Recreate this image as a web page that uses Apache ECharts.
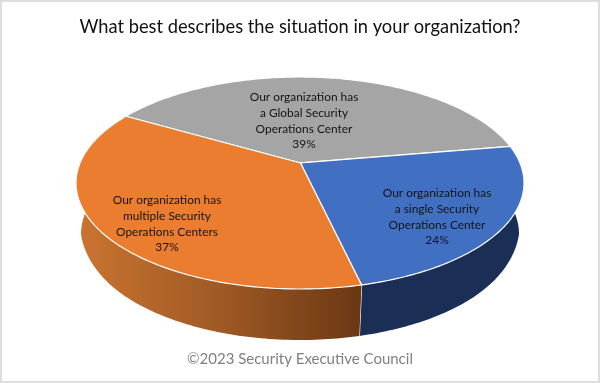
<!DOCTYPE html>
<html>
<head>
<meta charset="utf-8">
<title>Security Operations Center survey</title>
<style>
html, body { margin: 0; padding: 0; background: #fff; }
#main { width: 600px; height: 383px; }
</style>
<script src="https://cdn.jsdelivr.net/npm/echarts@6/dist/echarts.min.js"></script>
</head>
<body>
<div id="main"></div>
<script>
// Survey values, clockwise from the grey slice
var sliceNames = [
    'Our organization has\na Global Security\nOperations Center',
    'Our organization has\na single Security\nOperations Center',
    'Our organization has\nmultiple Security\nOperations Centers'
];
var sliceValues = [39, 24, 37];
var topColors = ['#A5A5A5', '#4170C2', '#EB7D31'];

// Label centres on the page, same order as the slices
var labelCenters = [[304, 121], [437, 217], [167, 224]];

// The 3D look: top face and floor of the disc, with a perspective factor
// flare widens the floor a little near the sides so the wall stays visible there
var topFace = {cx: 300, cy: 183, rx: 224, ry: 106, flare: 0};
var floorFace = {cx: 300, cy: 234, rx: 216, ry: 106, flare: 0.014};
var perspective = 0.189;
var startAngle = -60;

var total = sliceValues.reduce(function (a, b) { return a + b; }, 0);

function sliceRange(index) {
    var before = 0;
    for (var i = 0; i < index; i++) {
        before += sliceValues[i];
    }
    return [startAngle + before / total * 360, startAngle + (before + sliceValues[index]) / total * 360];
}

// circle angle (clockwise from the back) to a page point
function project(face, degrees) {
    var rad = degrees * Math.PI / 180;
    var u = Math.sin(rad);
    var v = -Math.cos(rad);
    var w = 1 - perspective * v;
    var dy = face.ry * (v - perspective) / w;
    var t = Math.max(0, 1 - Math.max(dy, 0) / 43);
    var dx = face.rx * Math.sqrt(1 - perspective * perspective) * u / w;
    return [face.cx + dx * (1 + face.flare * t * t), face.cy + dy];
}

function arcPoints(face, from, to) {
    var points = [];
    var steps = Math.ceil(Math.abs(to - from));
    for (var i = 0; i <= steps; i++) {
        points.push(project(face, from + (to - from) * i / steps));
    }
    return points;
}

function wallFill(index) {
    if (index === 2) {
        return new echarts.graphic.LinearGradient(76, 0, 360, 0, [
            {offset: 0, color: '#CB7430'},
            {offset: 0.5, color: '#A05A25'},
            {offset: 1, color: '#6B3814'}
        ], true);
    }
    return index === 1 ? '#1B2F56' : '#636363';
}

function renderWall(params, api) {
    var index = params.dataIndex;
    var range = sliceRange(index);
    var upper = arcPoints(topFace, range[0], range[1]);
    var lower = arcPoints(floorFace, range[0], range[1]).reverse();
    var seam = [project(topFace, range[1]), project(floorFace, range[1])];
    return {
        type: 'group',
        children: [{
            type: 'polygon',
            shape: {points: upper.concat(lower)},
            style: {fill: wallFill(index)}
        }, {
            type: 'polyline',
            shape: {points: seam},
            style: {stroke: index === 1 ? '#fff' : 'transparent', lineWidth: 1.2, fill: 'none'}
        }]
    };
}

function renderTop(params, api) {
    var index = params.dataIndex;
    var range = sliceRange(index);
    var vertex = [topFace.cx + 0.5, topFace.cy - topFace.ry * perspective];
    return {
        type: 'group',
        children: [{
            type: 'polygon',
            shape: {points: [vertex].concat(arcPoints(topFace, range[0], range[1]))},
            style: {fill: topColors[index], stroke: '#fff', lineWidth: 1.2, lineJoin: 'round'}
        }, {
            type: 'text',
            z2: 10,
            style: {
                x: labelCenters[index][0],
                y: labelCenters[index][1],
                text: sliceNames[index] + '\n' + api.value(0) + '%',
                fill: '#141414',
                font: '11.9px Lato',
                lineHeight: 15.7,
                align: 'center',
                verticalAlign: 'middle'
            }
        }]
    };
}

var myChart = echarts.init(document.getElementById('main'), null, {renderer: 'canvas'});
var option = {
    animation: false,
    backgroundColor: '#fff',
    title: [{
        text: 'What best describes the situation in your organization?',
        left: 'center',
        top: 13,
        textStyle: {fontFamily: 'Lato', fontSize: 18.3, fontWeight: 'normal', color: '#111'}
    }, {
        text: '©2023 Security Executive Council',
        left: 'center',
        top: 347,
        textStyle: {fontFamily: 'Lato', fontSize: 15, fontWeight: 'normal', color: '#7F7F7F'}
    }],
    graphic: [{
        type: 'rect',
        silent: true,
        shape: {x: 1, y: 1, width: 598, height: 381},
        style: {fill: 'none', stroke: '#DEDEDE', lineWidth: 2}
    }],
    series: [{
        type: 'custom',
        coordinateSystem: 'none',
        z: 1,
        silent: true,
        renderItem: renderWall,
        data: sliceValues
    }, {
        type: 'custom',
        coordinateSystem: 'none',
        z: 2,
        silent: true,
        renderItem: renderTop,
        data: sliceValues
    }]
};
myChart.setOption(option, true);
</script>
</body>
</html>
